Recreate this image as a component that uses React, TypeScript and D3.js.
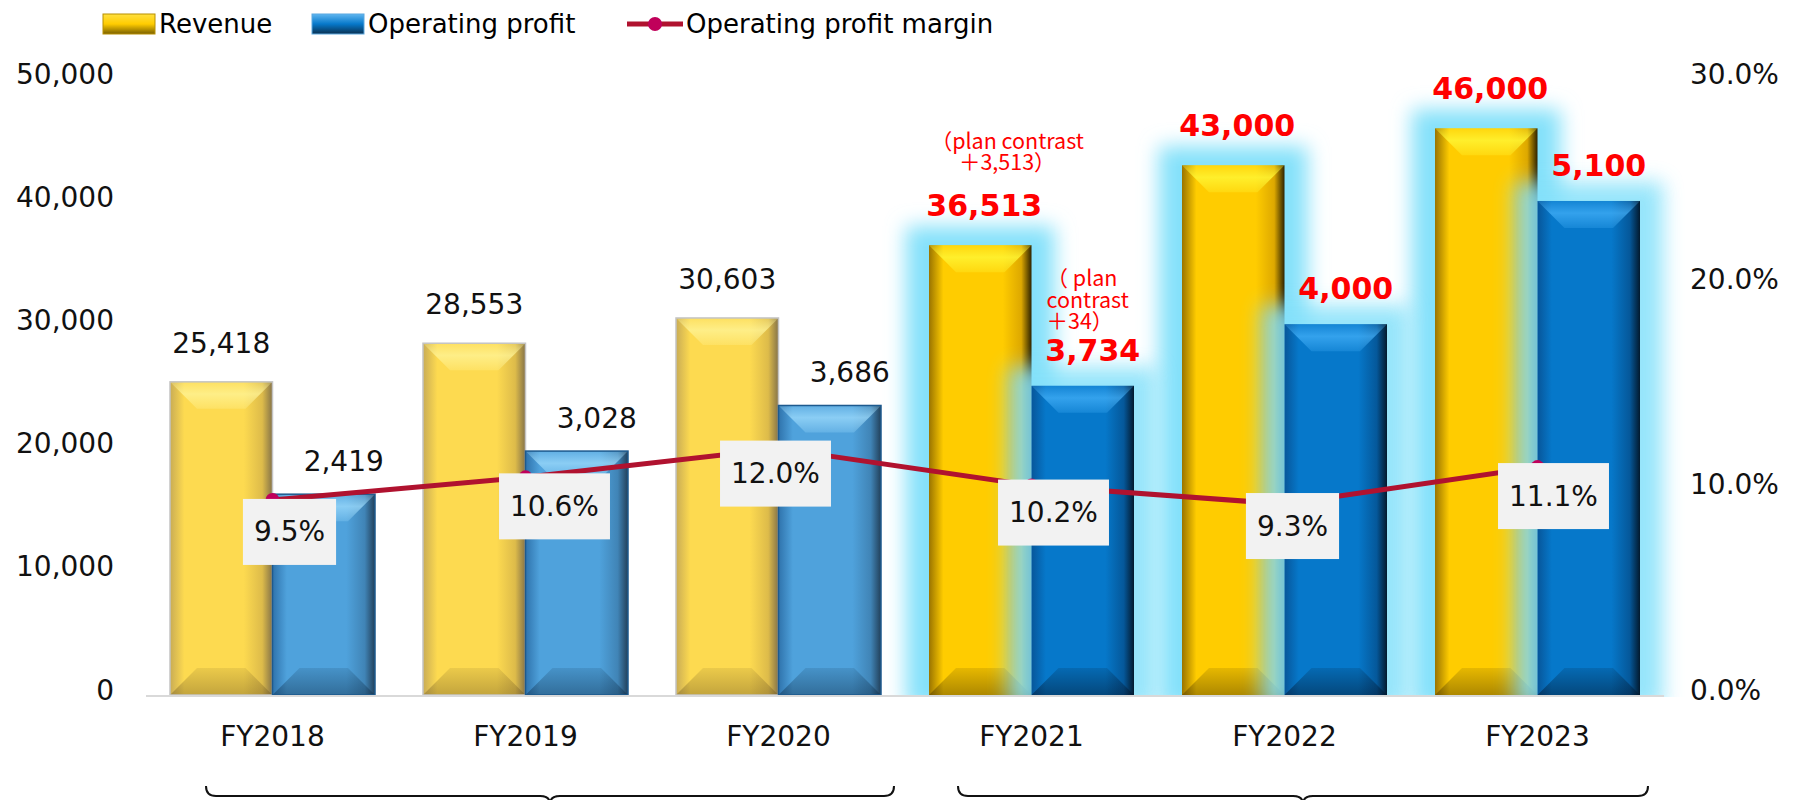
import React from 'react';
import * as d3 from 'd3';

// ---------- data ----------
const years = ['FY2018', 'FY2019', 'FY2020', 'FY2021', 'FY2022', 'FY2023'];
const revenue = [25418, 28553, 30603, 36513, 43000, 46000];
const opProfit = [2419, 3028, 3686, 3734, 4000, 5100];
// operating-profit bar heights as drawn in the reference, read against the left axis
const opProfitBarLevel = [16300, 19800, 23500, 25100, 30100, 40100];
const opMargin = [0.095, 0.106, 0.12, 0.102, 0.093, 0.111];
const highlighted = [false, false, false, true, true, true];
const leftTicks = [0, 10000, 20000, 30000, 40000, 50000];
const rightTicks = [0, 0.1, 0.2, 0.3];
const legendLabels = ['Revenue', 'Operating profit', 'Operating profit margin'];
const revenueNote = ['（plan contrast', '＋3,513）'];
const profitNote = ['（ plan', 'contrast', '＋34）'];

// ---------- layout ----------
const W = 1793;
const H = 800;
const PL = 146, PR = 1664, PT = 79, PB = 695;
const F = "'DejaVu Sans', Verdana, sans-serif";
const FJ = "'Noto Sans CJK JP', 'Noto Sans', sans-serif";
// margin label box nudges [dx to box centre, dy to box top] relative to the point
const marginLabelNudge = [[17, -1], [29, -4], [-3, -8], [22, -6], [8, -11], [16, -4]];

const palettes: Record<string, any> = {
  pastRev: { left: '#C9AC55', base: '#FDDA50', mid: '#DDBB4A', right: '#857348', hi: '#FFF59A', hiOp: 0.75, lo: '#6B5420', loOp: 0.4, stroke: '#C4C4C4' },
  pastOp: { left: '#2F73AC', base: '#4FA2DC', mid: '#4084B6', right: '#22405A', hi: '#A4E0FF', hiOp: 0.7, lo: '#0E2E4A', loOp: 0.45, stroke: '#1D5A8E' },
  curRev: { left: '#9A7400', base: '#FFCC00', mid: '#DDA800', right: '#2E2300', hi: '#FFF533', hiOp: 0.85, lo: '#4A3600', loOp: 0.45, stroke: 'none' },
  curOp: { left: '#07569A', base: '#0678CA', mid: '#05589A', right: '#031A2E', hi: '#4CB8FF', hiOp: 0.65, lo: '#021830', loOp: 0.5, stroke: 'none' },
};

let _ctx: CanvasRenderingContext2D | null = null;
function measure(text: string, font: string) {
  if (!_ctx) _ctx = document.createElement('canvas').getContext('2d');
  if (!_ctx) return text.length * 16;
  _ctx.font = font;
  return _ctx.measureText(text).width;
}

function Bevel({ x, y, w, h, kind }: { x: number; y: number; w: number; h: number; kind: string }) {
  const p = palettes[kind];
  const b = Math.min(27, h / 2, w / 2);
  const top = `${x},${y} ${x + w},${y} ${x + w - b},${y + b} ${x + b},${y + b}`;
  const bot = `${x},${y + h} ${x + w},${y + h} ${x + w - b},${y + h - b} ${x + b},${y + h - b}`;
  return (
    <g>
      <rect x={x} y={y} width={w} height={h} fill={`url(#h-${kind})`} />
      <polygon points={top} fill={`url(#t-${kind})`} />
      <polygon points={bot} fill={`url(#b-${kind})`} />
      {p.stroke !== 'none' && (
        <rect x={x} y={y} width={w} height={h} fill="none" stroke={p.stroke} strokeWidth={1.5} />
      )}
    </g>
  );
}

function Gradients() {
  return (
    <>
      {Object.keys(palettes).map((k) => {
        const p = palettes[k];
        return (
          <React.Fragment key={k}>
            <linearGradient id={`h-${k}`} x1="0" x2="1" y1="0" y2="0">
              <stop offset="0" stopColor={p.left} />
              <stop offset="0.14" stopColor={p.base} />
              <stop offset="0.72" stopColor={p.base} />
              <stop offset="0.9" stopColor={p.mid} />
              <stop offset="1" stopColor={p.right} />
            </linearGradient>
            <linearGradient id={`t-${k}`} x1="0" x2="0" y1="0" y2="1">
              <stop offset="0" stopColor={p.hi} stopOpacity={p.hiOp * 0.3} />
              <stop offset="0.45" stopColor={p.hi} stopOpacity={p.hiOp} />
              <stop offset="1" stopColor={p.hi} stopOpacity={p.hiOp * 0.35} />
            </linearGradient>
            <linearGradient id={`b-${k}`} x1="0" x2="0" y1="0" y2="1">
              <stop offset="0" stopColor={p.lo} stopOpacity={p.loOp * 0.3} />
              <stop offset="1" stopColor={p.lo} stopOpacity={p.loOp} />
            </linearGradient>
          </React.Fragment>
        );
      })}
    </>
  );
}

function Brace({ x1, x2, yl }: { x1: number; x2: number; yl: number }) {
  const xm = (x1 + x2) / 2;
  const r = 10;
  const d = `M${x1},${yl - 10} Q${x1},${yl} ${x1 + r},${yl} L${xm - r},${yl} Q${xm},${yl} ${xm},${yl + 8} Q${xm},${yl} ${xm + r},${yl} L${x2 - r},${yl} Q${x2},${yl} ${x2},${yl - 10}`;
  return <path d={d} fill="none" stroke="#111" strokeWidth={2} />;
}

export default function App() {
  const x = d3.scaleBand<string>().domain(years).range([PL, PR]).paddingInner(48 / 253).paddingOuter(24 / 253);
  const xs = d3.scaleBand<string>().domain(['rev', 'op']).range([0, x.bandwidth()]).padding(0);
  const yL = d3.scaleLinear().domain([0, 50000]).range([PB, PT]);
  const yR = d3.scaleLinear().domain([0, 0.3]).range([PB, PT]);
  const fmt = d3.format(',');
  const pct = d3.format('.1%');
  const bw = xs.bandwidth();

  const bars = years.map((yr, i) => {
    const gx = x(yr) as number;
    const rx = gx + (xs('rev') as number);
    const ox = gx + (xs('op') as number);
    const ry = yL(revenue[i]);
    const oy = yL(opProfitBarLevel[i]);
    return { yr, i, rx, ox, ry, oy, cx: gx + x.bandwidth() / 2, hl: highlighted[i] };
  });

  const pts: [number, number][] = bars.map((b) => [b.cx, yR(opMargin[b.i])]);
  const line = d3.line()(pts) || '';

  const glowPad = 23;
  const glowFill = '#84E1FA';

  return (
    <svg width={W} height={H} style={{ position: 'absolute', left: 0, top: 0, display: 'block', background: '#fff' }}>
      <defs>
        <Gradients />
        <filter id="glowBlur" x="-50%" y="-50%" width="200%" height="200%">
          <feGaussianBlur stdDeviation="10" />
        </filter>
        <clipPath id="glowClip">
          <rect x={0} y={0} width={W} height={PB + 2} />
        </clipPath>
        <linearGradient id="lg-rev" x1="0" x2="0" y1="0" y2="1">
          <stop offset="0" stopColor="#FFE040" />
          <stop offset="0.5" stopColor="#FFCC00" />
          <stop offset="1" stopColor="#7A6000" />
        </linearGradient>
        <linearGradient id="lg-op" x1="0" x2="0" y1="0" y2="1">
          <stop offset="0" stopColor="#5FB6F0" />
          <stop offset="0.5" stopColor="#0678CA" />
          <stop offset="1" stopColor="#0A3050" />
        </linearGradient>
      </defs>

      {/* legend */}
      <g fontFamily={F} fontSize={26} fill="#000">
        <rect x={103} y={14} width={52} height={20} fill="url(#lg-rev)" stroke="#B89000" strokeWidth={1} />
        <text x={159} y={32.5}>{legendLabels[0]}</text>
        <rect x={312} y={14} width={52} height={20} fill="url(#lg-op)" stroke="#5AA8E0" strokeWidth={1} />
        <text x={368} y={32.5}>{legendLabels[1]}</text>
        <line x1={627} x2={683} y1={24} y2={24} stroke="#B0122F" strokeWidth={5} />
        <circle cx={655} cy={24} r={7} fill="#C0005A" />
        <text x={686} y={32.5}>{legendLabels[2]}</text>
      </g>

      {/* axes labels */}
      <g fontFamily={F} fontSize={28} fill="#111">
        {leftTicks.map((t) => (
          <text key={t} x={114} y={yL(t) - 5} textAnchor="end" dominantBaseline="central">{fmt(t)}</text>
        ))}
        {rightTicks.map((t) => (
          <text key={t} x={1690} y={yR(t) - 5} textAnchor="start" dominantBaseline="central">{pct(t)}</text>
        ))}
        {years.map((yr) => (
          <text key={yr} x={(x(yr) as number) + x.bandwidth() / 2} y={736} textAnchor="middle" dominantBaseline="central">{yr}</text>
        ))}
      </g>

      {/* revenue glow */}
      <g clipPath="url(#glowClip)">
        {bars.filter((b) => b.hl).map((b) => (
          <rect key={'gr' + b.yr} x={b.rx - glowPad} y={b.ry - glowPad + 4} width={bw + glowPad * 2} height={PB - b.ry + glowPad + 10}
            fill={glowFill} filter="url(#glowBlur)" />
        ))}
      </g>
      {/* revenue bars */}
      {bars.map((b) => (
        <Bevel key={'r' + b.yr} x={b.rx} y={b.ry} w={bw} h={PB - b.ry} kind={b.hl ? 'curRev' : 'pastRev'} />
      ))}
      {/* op glow */}
      <g clipPath="url(#glowClip)">
        {bars.filter((b) => b.hl).map((b) => (
          <rect key={'go' + b.yr} x={b.ox - glowPad} y={b.oy - glowPad + 4} width={bw + glowPad * 2} height={PB - b.oy + glowPad + 10}
            fill={glowFill} opacity={0.85} filter="url(#glowBlur)" />
        ))}
      </g>
      {/* op bars */}
      {bars.map((b) => (
        <Bevel key={'o' + b.yr} x={b.ox} y={b.oy} w={bw} h={PB - b.oy} kind={b.hl ? 'curOp' : 'pastOp'} />
      ))}

      {/* baseline */}
      <line x1={PL} x2={PR} y1={PB + 1} y2={PB + 1} stroke="#D9D9D9" strokeWidth={2} />

      {/* value labels */}
      <g fontFamily={F}>
        {bars.map((b) => (
          <text key={'lr' + b.yr} x={b.rx + bw / 2 + (b.hl ? 4 : 0)} y={b.ry - 29} textAnchor="middle"
            fontSize={b.hl ? 30 : 28} fontWeight={b.hl ? 'bold' : 'normal'} fill={b.hl ? '#FF0000' : '#111'}>
            {fmt(revenue[b.i])}
          </text>
        ))}
        {bars.map((b) => (
          <text key={'lo' + b.yr} x={b.ox + bw / 2 + (b.hl ? 10 : 20)} y={b.oy - (b.hl ? 25 : 23)} textAnchor="middle"
            fontSize={b.hl ? 30 : 28} fontWeight={b.hl ? 'bold' : 'normal'} fill={b.hl ? '#FF0000' : '#111'}>
            {fmt(opProfit[b.i])}
          </text>
        ))}
      </g>

      {/* plan notes (multi-line, one text element each; lines as tight as in the reference) */}
      <g fontFamily={FJ} fontSize={21.5} fill="#FF0000">
        <text textAnchor="middle">
          {revenueNote.map((t, k) => (
            <tspan key={'rn' + k} x={bars[3].rx + bw / 2 + 27} y={149 + k * 20.5}>{t}</tspan>
          ))}
        </text>
        <text textAnchor="start">
          {profitNote.map((t, k) => (
            <tspan key={'pn' + k} x={bars[3].ox + 15} y={286 + k * 21.5}>{t}</tspan>
          ))}
        </text>
      </g>

      {/* margin line */}
      <path d={line} fill="none" stroke="#B0122F" strokeWidth={5} strokeLinejoin="round" />
      {pts.map((p, i) => (
        <circle key={'m' + i} cx={p[0]} cy={p[1]} r={7} fill="#C0005A" />
      ))}
      <g fontFamily={F} fontSize={28} fill="#111">
        {pts.map((p, i) => {
          const label = pct(opMargin[i]);
          const tw = measure(label, `28px ${F}`);
          const bwid = tw + 22;
          const cx = p[0] + marginLabelNudge[i][0];
          const top = p[1] + marginLabelNudge[i][1];
          return (
            <g key={'ml' + i}>
              <rect x={cx - bwid / 2} y={top} width={bwid} height={66} fill="#F2F2F2" />
              <text x={cx} y={top + 33} textAnchor="middle" dominantBaseline="central">{label}</text>
            </g>
          );
        })}
      </g>

      {/* braces */}
      <Brace x1={206} x2={894} yl={796} />
      <Brace x1={958} x2={1648} yl={796} />
    </svg>
  );
}
